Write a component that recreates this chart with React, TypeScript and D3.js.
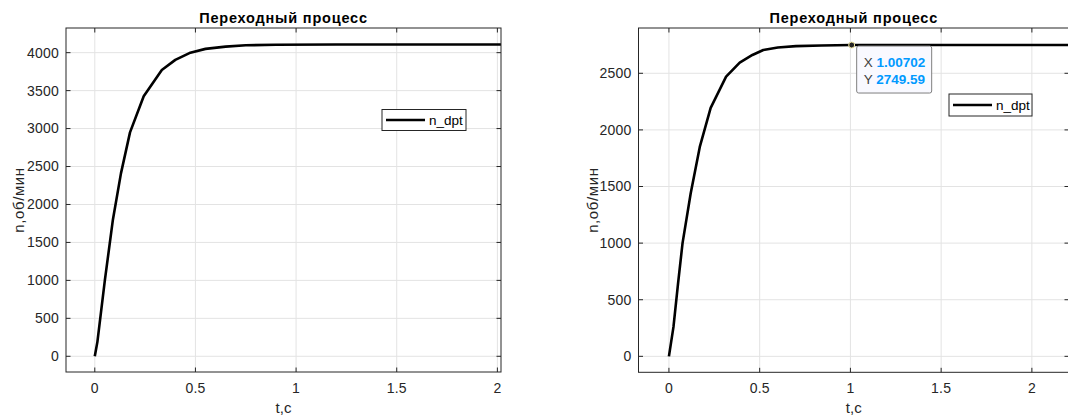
import React from 'react';
import * as d3 from 'd3';

// data
const leftT = [0, 0.013, 0.05, 0.09, 0.13, 0.175, 0.243, 0.333, 0.4, 0.47, 0.55, 0.65, 0.75, 0.9, 1.2, 1.6, 2.02];
const leftN = [0, 190, 1000, 1800, 2410, 2950, 3425, 3772, 3905, 3995, 4050, 4080, 4097, 4105, 4108, 4108, 4108];
const rightT = [0, 0.025, 0.05, 0.075, 0.12, 0.17, 0.23, 0.315, 0.39, 0.46, 0.52, 0.6, 0.7, 0.84, 1.00702, 1.5, 2.3];
const rightN = [0, 260, 640, 1000, 1440, 1850, 2195, 2470, 2594, 2662, 2706, 2728, 2740, 2745, 2749.59, 2749.7, 2749.7];

const xTicks = [0, 0.5, 1, 1.5, 2];
const leftYTicks = [0, 500, 1000, 1500, 2000, 2500, 3000, 3500, 4000];
const rightYTicks = [0, 500, 1000, 1500, 2000, 2500];

const title = 'Переходный процесс';
const xLabel = 't,c';
const yLabel = 'n,об/мин';
const seriesName = 'n_dpt';
const tip = { x: 1.00702, y: 2749.59 };

const FONT = '"Liberation Sans", Arial, sans-serif';
const AX = '#262626';

type PanelProps = {
  left: number; right: number; top: number; bottom: number;
  xDomain: [number, number]; yDomain: [number, number];
  t: number[]; n: number[]; yTicks: number[];
  legend: { x: number; y: number; w: number; h: number };
  ylabelX: number;
  datatip?: { x: number; y: number };
};

function Panel(p: PanelProps) {
  const x = d3.scaleLinear().domain(p.xDomain).range([p.left, p.right]);
  const y = d3.scaleLinear().domain(p.yDomain).range([p.bottom, p.top]);
  const pts = p.t.map((v, i) => [v, p.n[i]] as [number, number]);
  const line = d3.line<[number, number]>().x(d => x(d[0])).y(d => y(d[1]));
  const clipId = 'clip' + Math.round(p.left);
  const tl = 4.5;
  const cx = (p.left + p.right) / 2;
  const cy = (p.top + p.bottom) / 2;

  return (
    <g fontFamily={FONT}>
      <defs>
        <clipPath id={clipId}>
          <rect x={p.left} y={p.top} width={p.right - p.left} height={p.bottom - p.top} />
        </clipPath>
      </defs>
      <rect x={p.left} y={p.top} width={p.right - p.left} height={p.bottom - p.top} fill="#fff" />
      {/* grid */}
      {xTicks.map(v => (
        <line key={'gx' + v} x1={x(v)} x2={x(v)} y1={p.top} y2={p.bottom} stroke="#e3e3e3" />
      ))}
      {p.yTicks.map(v => (
        <line key={'gy' + v} x1={p.left} x2={p.right} y1={y(v)} y2={y(v)} stroke="#e3e3e3" />
      ))}
      {/* curve */}
      <path d={line(pts) || ''} fill="none" stroke="#000" strokeWidth={2.6} strokeLinejoin="round" clipPath={`url(#${clipId})`} />
      {/* box + ticks */}
      <rect x={p.left} y={p.top} width={p.right - p.left} height={p.bottom - p.top} fill="none" stroke={AX} strokeWidth={1} />
      {xTicks.map(v => (
        <g key={'tx' + v}>
          <line x1={x(v)} x2={x(v)} y1={p.bottom} y2={p.bottom - tl} stroke={AX} />
          <line x1={x(v)} x2={x(v)} y1={p.top} y2={p.top + tl} stroke={AX} />
          <text x={x(v)} y={p.bottom + 21} textAnchor="middle" fontSize={14} letterSpacing={0.2} fill={AX}>{v}</text>
        </g>
      ))}
      {p.yTicks.map(v => (
        <g key={'ty' + v}>
          <line x1={p.left} x2={p.left + tl} y1={y(v)} y2={y(v)} stroke={AX} />
          <line x1={p.right} x2={p.right - tl} y1={y(v)} y2={y(v)} stroke={AX} />
          <text x={p.left - 7} y={y(v)} dy="0.35em" textAnchor="end" fontSize={14} letterSpacing={0.2} fill={AX}>{v}</text>
        </g>
      ))}
      {/* labels */}
      <text x={cx} y={p.top - 5} textAnchor="middle" fontSize={14.5} letterSpacing={0.8} fontWeight="bold" fill="#000">{title}</text>
      <text x={cx} y={p.bottom + 41} textAnchor="middle" fontSize={15} fill={AX}>{xLabel}</text>
      <text transform={`translate(${p.ylabelX},${cy}) rotate(-90)`} textAnchor="middle" fontSize={15} letterSpacing={0.6} fill={AX}>{yLabel}</text>
      {/* legend */}
      <rect x={p.legend.x} y={p.legend.y} width={p.legend.w} height={p.legend.h} fill="#fff" stroke={AX} strokeWidth={1} />
      <line x1={p.legend.x + 4} x2={p.legend.x + 43} y1={p.legend.y + p.legend.h / 2} y2={p.legend.y + p.legend.h / 2} stroke="#000" strokeWidth={2.6} />
      <text x={p.legend.x + 47} y={p.legend.y + p.legend.h / 2} dy="0.35em" fontSize={13.5} fill="#000">{seriesName}</text>
      {/* datatip */}
      {p.datatip && (
        <g>
          <rect x={x(p.datatip.x) + 5} y={y(p.datatip.y) + 1} width={75} height={47} rx={2} fill="#f9f9ff" stroke="#7f7f7f" strokeWidth={1} />
          <text x={x(p.datatip.x) + 12} y={y(p.datatip.y) + 22} fontSize={13.5} fill="#404040">
            X <tspan fill="#0099ff" fontWeight="bold">{p.datatip.x}</tspan>
          </text>
          <text x={x(p.datatip.x) + 12} y={y(p.datatip.y) + 39} fontSize={13.5} fill="#404040">
            Y <tspan fill="#0099ff" fontWeight="bold">{p.datatip.y}</tspan>
          </text>
          <circle cx={x(p.datatip.x)} cy={y(p.datatip.y)} r={3} fill="#262626" stroke="#f0e6a0" strokeWidth={1} />
        </g>
      )}
    </g>
  );
}

export default function App() {
  return (
    <div style={{ position: 'fixed', left: 0, top: 0, width: 1068, height: 419, background: '#fff' }}>
      <svg width={1068} height={419} style={{ display: 'block' }}>
        <rect width={1068} height={419} fill="#fff" />
        <Panel
          left={66} right={501} top={28} bottom={372}
          xDomain={[-0.143, 2.018]} yDomain={[-207, 4325]}
          t={leftT} n={leftN} yTicks={leftYTicks}
          legend={{ x: 382, y: 109.5, w: 84, h: 21 }}
          ylabelX={24}
        />
        <Panel
          left={638.5} right={1069} top={28} bottom={372.3}
          xDomain={[-0.1677, 2.2045]} yDomain={[-141, 2900]}
          t={rightT} n={rightN} yTicks={rightYTicks}
          legend={{ x: 949, y: 94, w: 83, h: 22 }}
          ylabelX={598}
          datatip={tip}
        />
      </svg>
    </div>
  );
}
